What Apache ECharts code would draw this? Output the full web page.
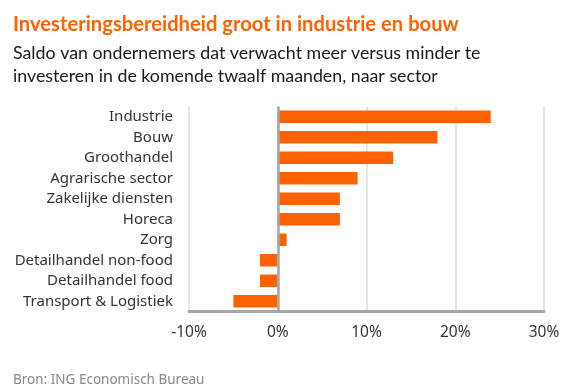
<!DOCTYPE html>
<html><head><meta charset="utf-8">
<script src="https://cdn.jsdelivr.net/npm/echarts@6/dist/echarts.min.js"></script>
<style>html,body{margin:0;padding:0;background:#fff}#c{width:564px;height:389px}</style>
</head><body><div id="c"></div>
<script>
const categories = ["Industrie","Bouw","Groothandel","Agrarische sector","Zakelijke diensten","Horeca","Zorg","Detailhandel non-food","Detailhandel food","Transport & Logistiek"];
const values = [24, 18, 13, 9, 7, 7, 1, -2, -2, -5];
const xTicks = {min: -10, max: 30, interval: 10};
const titleText = "Investeringsbereidheid groot in industrie en bouw";
const subtitleText = "Saldo van ondernemers dat verwacht meer versus minder te\ninvesteren in de komende twaalf maanden, naar sector";
const sourceText = "Bron: ING Economisch Bureau";

const chart = echarts.init(document.getElementById('c'), null, {renderer:'canvas'});
const FONT = 'Noto Sans';
chart.setOption({
  animation: false,
  backgroundColor: '#fff',
  title: [
    {text: titleText, left: 8, top: 9, textStyle: {color:'#FF6200', fontFamily: 'Lato', fontWeight:'bold', fontSize: 20.2}},
    {text: subtitleText, left: 8, top: 37, textStyle: {color:'#1a1a1a', fontFamily: 'Lato', fontWeight:'normal', fontSize: 17.8, lineHeight: 23}},
    {text: sourceText, left: 8, top: 368, textStyle: {color:'#888', fontFamily: FONT, fontWeight:'normal', fontSize: 13.5}}
  ],
  grid: {left: 189, right: 20, top: 106.5, bottom: 77.5},
  xAxis: {
    type: 'value', min: xTicks.min, max: xTicks.max, interval: xTicks.interval,
    axisLine: {show: true, onZero: false, lineStyle: {color:'#a6a6a6', width: 3}},
    axisTick: {show: false},
    axisLabel: {formatter: '{value}%', color:'#333', fontFamily: FONT, fontSize: 15.5, margin: 13},
    splitLine: {show: true, lineStyle: {color:'#dcdcdc', width: 1.5}}
  },
  yAxis: {
    type: 'category', data: categories, inverse: true,
    axisLine: {show: false}, axisTick: {show: false},
    axisLabel: {color:'#333', fontFamily: FONT, fontSize: 15, margin: 16}
  },
  series: [{
    type: 'bar', data: values, barWidth: 12.5,
    itemStyle: {color:'#FF6200'},
    markLine: {silent: true, symbol: 'none', label: {show:false},
      lineStyle: {color:'#a6a6a6', type:'solid', width: 2.5},
      data: [{xAxis: 0}]}
  }]
});
</script></body></html>
